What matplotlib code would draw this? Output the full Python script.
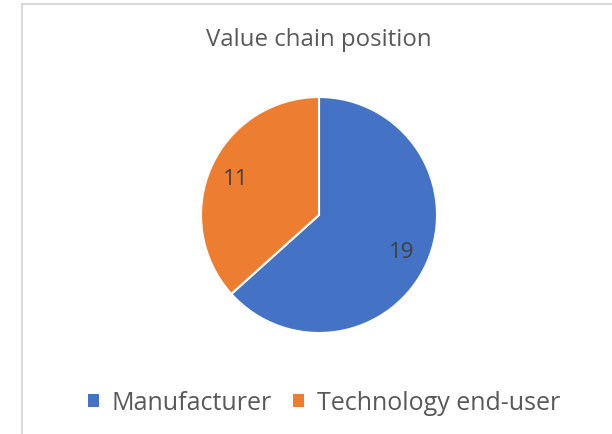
import matplotlib.pyplot as plt
from matplotlib.lines import Line2D
from matplotlib.patches import Patch

categories = ['Manufacturer', 'Technology end-user']
counts = [19, 11]
colors = ['#4472C4', '#ED7D31']

plt.rcParams['font.family'] = ['Open Sans', 'DejaVu Sans']

fig = plt.figure(figsize=(6.12, 4.35), dpi=100)
W, H = 612, 435

# light chart frame (top and left edges visible)
fig.add_artist(Line2D([22 / W, 1], [1 - 5 / H, 1 - 5 / H], color='#D9D9D9', lw=1.5))
fig.add_artist(Line2D([22 / W, 22 / W], [0, 1 - 5 / H], color='#D9D9D9', lw=1.5))

cx, cy, r = 319, 216, 118
ax = fig.add_axes([(cx - r) / W, 1 - (cy + r) / H, 2 * r / W, 2 * r / H])
wedges, texts, autotexts = ax.pie(
    counts, colors=colors, startangle=90, counterclock=False,
    autopct=lambda p: '{:.0f}'.format(p * sum(counts) / 100),
    pctdistance=0.77, wedgeprops=dict(edgecolor='white', linewidth=1.5),
    textprops=dict(color='#404040', fontsize=16))
ax.set_xlim(-1, 1)
ax.set_ylim(-1, 1)
ax.set_aspect('equal')

fig.text(319 / W, 1 - 40 / H, 'Value chain position', ha='center', va='center',
         fontsize=17.3, color='#595959')

handles = [Patch(facecolor=c, edgecolor='none') for c in colors]
fig.legend(handles, categories, loc='center', bbox_to_anchor=(324 / W, 1 - 404 / H),
           ncol=2, frameon=False, fontsize=18, labelcolor='#595959',
           handlelength=0.45, handleheight=0.45, handletextpad=0.5, columnspacing=0.85)

fig.savefig('out.png', dpi=100)
